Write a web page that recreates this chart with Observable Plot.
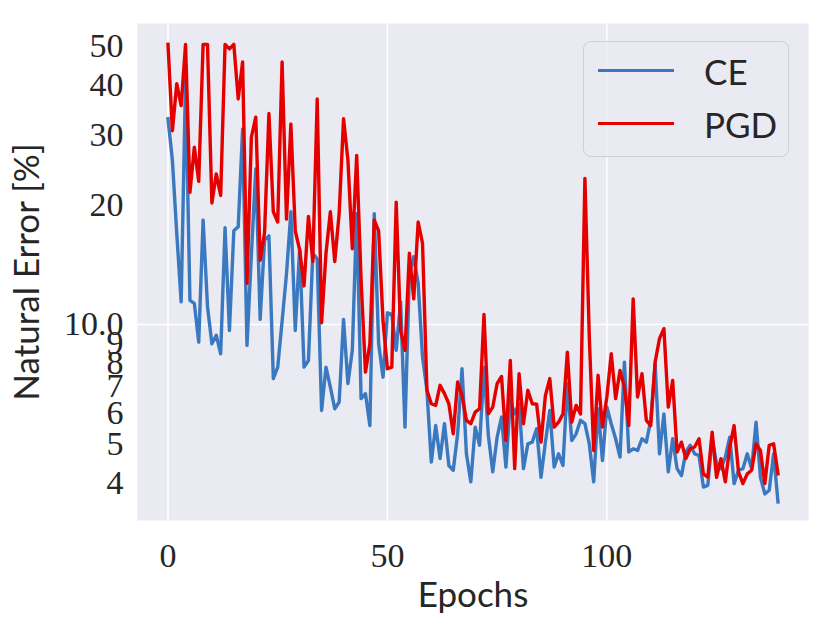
<!DOCTYPE html>
<html><head><meta charset="utf-8">
<script src="https://cdn.jsdelivr.net/npm/d3@7"></script>
<script src="https://cdn.jsdelivr.net/npm/@observablehq/plot@0.6"></script>
<style>
body{margin:0;background:#fff;}
#wrap{position:relative;width:831px;height:627px;}
.legend{position:absolute;left:583px;top:41px;width:206px;height:116px;box-sizing:border-box;border:1.2px solid #cfcfd8;border-radius:8px;background:rgba(234,234,242,0.8);font-family:Lato,sans-serif;font-size:35px;color:#262626;}
.legend .row{position:absolute;left:0;height:40px;width:100%;}
.legend .sw{position:absolute;left:14px;width:76px;height:3.4px;top:18px;}
.legend .lb{position:absolute;left:120px;top:0;line-height:40px;}
</style></head><body><div id="wrap"></div>
<script>
const ce = [32.9,25.9,16.9,11.4,41.1,11.5,11.3,9.03,18.3,11.1,
  8.94,9.39,8.44,17.5,9.66,17.2,17.6,31.0,8.86,15.0,
  24.6,10.3,16.3,16.7,7.31,7.81,10.2,13.4,19.2,9.66,
  15.5,7.81,8.12,15.1,14.6,6.08,7.81,6.96,6.14,6.38,
  10.3,7.10,8.61,19.0,6.51,6.70,5.57,19.0,8.94,7.37,
  10.7,10.6,8.61,11.4,5.52,13.4,14.8,12.7,8.28,6.83,
  4.51,5.57,4.60,5.63,4.42,4.30,5.31,7.74,4.73,4.02,
  5.52,4.97,7.81,5.26,4.26,5.21,5.85,4.38,6.44,5.96,
  6.32,4.34,5.01,5.06,5.47,4.13,5.06,6.08,4.38,4.73,
  4.42,7.10,5.11,5.31,5.74,5.63,5.01,4.02,6.14,4.55,
  6.20,5.63,5.16,4.64,8.04,4.78,4.87,4.82,5.16,5.06,
  5.74,7.96,4.73,5.96,4.26,5.16,4.34,4.17,4.78,4.97,
  4.73,4.69,3.90,3.94,5.16,4.47,4.34,4.64,5.21,3.98,
  4.30,4.34,4.73,4.34,5.68,4.13,3.75,3.83,4.73,3.58];
const pgd = [50.6,30.7,40.3,35.5,50.6,21.5,27.9,22.9,50.6,50.6,
  20.2,23.9,21.1,50.6,49.3,50.6,36.9,45.7,12.7,29.6,
  33.2,14.5,17.0,33.9,19.2,18.1,45.7,18.4,31.9,17.2,
  15.4,12.5,18.7,14.4,36.9,10.1,15.1,19.2,14.4,19.0,
  32.9,25.9,15.5,26.6,12.9,7.59,8.94,18.3,17.2,10.2,
  7.74,7.81,20.3,9.66,8.61,15.1,11.6,18.1,16.0,6.83,
  6.32,6.26,7.03,6.70,6.32,5.31,7.17,6.63,5.74,5.63,
  6.02,6.14,10.6,5.96,6.20,7.10,7.40,5.11,8.12,4.34,
  7.52,5.63,6.83,6.32,6.30,5.06,6.63,7.31,5.52,5.68,
  5.96,8.52,5.68,6.26,5.96,23.3,9.30,4.82,7.45,5.52,
  6.57,8.44,6.51,7.66,6.96,5.57,11.6,6.57,7.52,5.74,
  5.57,8.04,9.21,9.76,6.20,7.23,4.78,5.06,4.60,4.87,
  4.92,5.16,4.21,4.13,5.36,4.13,4.60,4.02,4.92,5.57,
  4.26,3.98,4.21,4.30,5.01,4.82,3.98,4.97,5.01,4.21];
const series = ["CE", "PGD"];
const colors = ["#3a78c0", "#e50000"];
const xTicks = [0, 50, 100];
const yTicks = [4, 5, 6, 7, 8, 9, 10, 20, 30, 40, 50];
const yTickLabels = ["4", "5", "6", "7", "8", "9", "10.0", "20", "30", "40", "50"];

const rows = [
  ...ce.map((v, i) => ({epoch: i, value: v, series: series[0]})),
  ...pgd.map((v, i) => ({epoch: i, value: v, series: series[1]}))
];

const chart = Plot.plot({
  width: 831, height: 627,
  marginLeft: 137, marginRight: 23, marginTop: 23, marginBottom: 107,
  style: {background: "white", fontFamily: "'Liberation Serif', serif", fontSize: "34px", color: "#262626", overflow: "visible"},
  x: {type: "linear", domain: [-6.95, 145.95], ticks: xTicks, tickSize: 0, tickPadding: 22,
      label: "Epochs", labelAnchor: "center", labelOffset: 86, labelArrow: "none"},
  y: {type: "log", domain: [3.215, 57.1], ticks: yTicks, tickFormat: d => yTickLabels[yTicks.indexOf(d)],
      tickSize: 0, tickPadding: 14, label: "Natural Error [%]", labelAnchor: "center", labelOffset: 123, labelArrow: "none"},
  color: {domain: series, range: colors},
  marks: [
    Plot.frame({fill: "#eaeaf2", stroke: "none"}),
    Plot.gridX(xTicks, {stroke: "white", strokeOpacity: 1, strokeWidth: 1.6}),
    Plot.gridY([10], {stroke: "white", strokeOpacity: 1, strokeWidth: 1.6}),
    Plot.line(rows, {x: "epoch", y: "value", z: "series", stroke: "series", strokeWidth: 3.4, strokeLinejoin: "round", strokeLinecap: "square"})
  ]
});
d3.select(chart).selectAll('g[aria-label$="axis label"]')
  .attr("font-family", "Lato, sans-serif").attr("font-size", 35);
const wrap = document.getElementById("wrap");
wrap.appendChild(chart);

const lg = document.createElement("div");
lg.className = "legend";
series.forEach((s, i) => {
  const r = document.createElement("div");
  r.className = "row";
  r.style.top = (9 + i * 53) + "px";
  const sw = document.createElement("div");
  sw.className = "sw";
  sw.style.background = colors[i];
  const lb = document.createElement("div");
  lb.className = "lb";
  lb.textContent = s;
  r.appendChild(sw); r.appendChild(lb);
  lg.appendChild(r);
});
wrap.appendChild(lg);
</script>
</body></html>
